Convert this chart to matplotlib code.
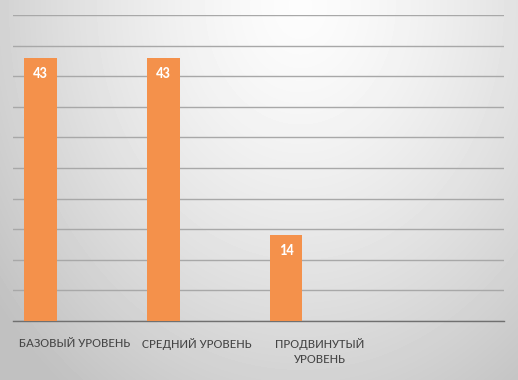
import numpy as np
import matplotlib
matplotlib.use("Agg")
import matplotlib.pyplot as plt
from matplotlib import font_manager

categories = ["БАЗОВЫЙ УРОВЕНЬ", "СРЕДНИЙ УРОВЕНЬ", "ПРОДВИНУТЫЙ\nУРОВЕНЬ", ""]
values = [43, 43, 14, np.nan]

# Calibri-like narrow font if there is one, otherwise DejaVu
names = {f.name for f in font_manager.fontManager.ttflist}
font, label_size = "DejaVu Sans", 8
for cand in ["Carlito", "Liberation Sans Narrow", "Roboto Condensed", "PT Sans Narrow"]:
    if cand in names:
        font, label_size = cand, 9.6
        break
plt.rcParams["font.family"] = [font, "DejaVu Sans"]

fig = plt.figure(figsize=(5.18, 3.80), dpi=100)

# background gradient, light near top centre, grey at edges
bg = fig.add_axes([0, 0, 1, 1], zorder=0)
yy, xx = np.mgrid[0:380, 0:518]
d = np.sqrt(((xx - 300) / 320.0) ** 2 + ((yy - 5) / 400.0) ** 2)
shade = 0.99 - 0.18 * np.clip(d, 0, 1.2) ** 1.4
bg.imshow(shade, cmap="gray", vmin=0, vmax=1, aspect="auto", interpolation="bilinear")
bg.axis("off")

ax = fig.add_axes([13 / 518, 1 - 321 / 380, 491 / 518, 306 / 380], zorder=1)
ax.patch.set_alpha(0)

x = np.arange(len(categories))
offset = -0.276
width = 0.268
bars = ax.bar(x + offset, values, width, color="#F4914B", zorder=3)

for xi, v in zip(x, values):
    if np.isnan(v):
        continue
    ax.text(xi + offset, v - 2.6, str(v), ha="center", va="center",
            color="white", fontsize=10.5, fontweight="bold", zorder=4)

ax.set_xlim(-0.5, len(categories) - 0.5)
ax.set_ylim(0, 50)
ax.set_yticks(np.arange(0, 51, 5))
ax.yaxis.grid(True, color="#a8a8a8", linewidth=1.0, zorder=1)
ax.tick_params(axis="y", left=False, labelleft=False)
ax.tick_params(axis="x", bottom=False, pad=9)
ax.set_xticks(x)
ax.set_xticklabels(categories, color="#454545", fontsize=label_size, linespacing=1.45)
for s in ["top", "right", "left"]:
    ax.spines[s].set_visible(False)
ax.spines["bottom"].set_color("#707070")
ax.spines["bottom"].set_linewidth(1.0)

fig.savefig("out.png", dpi=100)
